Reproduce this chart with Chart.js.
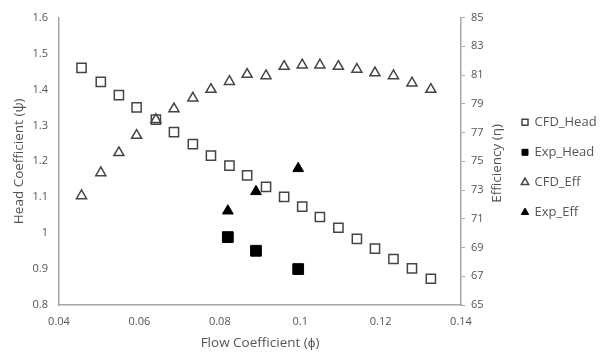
<!DOCTYPE html>
<html>
<head>
<meta charset="utf-8">
<script src="https://cdn.jsdelivr.net/npm/chart.js@4.4.1/dist/chart.umd.min.js"></script>
<style>
  html, body { margin: 0; padding: 0; background: #fff; }
  #wrap { width: 606px; height: 356px; }
</style>
</head>
<body>
<div id="wrap"><canvas id="pumpChart" width="606" height="356"></canvas></div>
<script>
// flow coefficient of the CFD points
const flowCfd = [0.0456, 0.0504, 0.0549, 0.0593, 0.0641, 0.0686, 0.0733, 0.0778, 0.0824, 0.0868,
                 0.0915, 0.0960, 0.1005, 0.1049, 0.1095, 0.1141, 0.1186, 0.1232, 0.1278, 0.1325];
const headCfd = [1.460, 1.421, 1.384, 1.350, 1.316, 1.281, 1.248, 1.216, 1.188, 1.161,
                 1.129, 1.101, 1.074, 1.045, 1.015, 0.984, 0.957, 0.928, 0.902, 0.873];
const effCfd = [72.6, 74.2, 75.6, 76.8, 77.9, 78.65, 79.4, 80.0, 80.55, 81.05,
                80.95, 81.6, 81.7, 81.7, 81.6, 81.4, 81.15, 80.95, 80.45, 80.0];

// experiment
const flowExp = [0.082, 0.089, 0.0995];
const headExp = [0.989, 0.951, 0.900];
const effExp = [71.55, 72.9, 74.5];

const seriesNames = ['CFD_Head', 'Exp_Head', 'CFD_Eff', 'Exp_Eff'];

const xTicks = [0.04, 0.06, 0.08, 0.1, 0.12, 0.14];
const xTickLabels = ['0.04', '0.06', '0.08', '0.1', '0.12', '0.14'];
const yTicks = [0.8, 0.9, 1, 1.1, 1.2, 1.3, 1.4, 1.5, 1.6];
const yTickLabels = ['0.8', '0.9', '1', '1.1', '1.2', '1.3', '1.4', '1.5', '1.6'];
const y2Ticks = [65, 67, 69, 71, 73, 75, 77, 79, 81, 83, 85];
const y2TickLabels = ['65', '67', '69', '71', '73', '75', '77', '79', '81', '83', '85'];

const xTitle = 'Flow Coefficient (\u03D5)';
const yTitle = 'Head Coefficient (\u03C8)';
const y2Title = 'Efficiency (\u03B7)';

const textColor = '#555555';
const axisColor = '#a6a6a6';
const FONT = "'Open Sans', 'Liberation Sans', sans-serif";

function pts(xs, ys) {
    return xs.map((x, i) => ({ x: x, y: ys[i] }));
}

function fixTicks(values) {
    return function (scale) {
        scale.ticks = values.map(v => ({ value: v }));
    };
}

// right axis title reads bottom-to-top, draw it ourselves
const rightTitle = {
    id: 'rightTitle',
    afterDraw(chart) {
        const ctx = chart.ctx;
        const a = chart.chartArea;
        ctx.save();
        ctx.font = '13.5px ' + FONT;
        ctx.fillStyle = textColor;
        ctx.textAlign = 'center';
        ctx.textBaseline = 'middle';
        ctx.translate(497, (a.top + a.bottom) / 2 + 2);
        ctx.rotate(-Math.PI / 2);
        ctx.fillText(y2Title, 0, 0);
        ctx.restore();
    }
};

const ctx = document.getElementById('pumpChart').getContext('2d');
const pumpChart = new Chart(ctx, {
    type: 'scatter',
    data: {
        datasets: [
            {
                label: seriesNames[0],
                data: pts(flowCfd, headCfd),
                yAxisID: 'y',
                pointStyle: 'rect',
                pointRadius: 6.5,
                borderWidth: 1.5,
                borderColor: '#444',
                backgroundColor: 'rgba(0,0,0,0)'
            },
            {
                label: seriesNames[1],
                data: pts(flowExp, headExp),
                yAxisID: 'y',
                pointStyle: 'rect',
                pointRadius: 7.6,
                borderWidth: 1,
                borderColor: '#000',
                backgroundColor: '#000'
            },
            {
                label: seriesNames[2],
                data: pts(flowCfd, effCfd),
                yAxisID: 'y2',
                pointStyle: 'triangle',
                pointRadius: 5.8,
                borderWidth: 1.5,
                borderColor: '#444',
                backgroundColor: 'rgba(0,0,0,0)'
            },
            {
                label: seriesNames[3],
                data: pts(flowExp, effExp),
                yAxisID: 'y2',
                pointStyle: 'triangle',
                pointRadius: 6.2,
                borderWidth: 1,
                borderColor: '#000',
                backgroundColor: '#000'
            }
        ]
    },
    options: {
        responsive: false,
        animation: false,
        devicePixelRatio: 1,
        layout: { padding: { top: 13, right: 0, left: 0, bottom: 0 } },
        plugins: {
            tooltip: { enabled: false },
            legend: {
                position: 'right',
                fullSize: false,
                align: 'center',
                title: { display: true, text: ' ', padding: 0, font: { size: 10 } },
                labels: {
                    usePointStyle: true,
                    boxWidth: 6,
                    boxHeight: 6,
                    padding: 17,
                    color: textColor,
                    font: { family: FONT, size: 13 }
                }
            }
        },
        scales: {
            x: {
                type: 'linear',
                min: 0.04,
                max: 0.14,
                afterBuildTicks: fixTicks(xTicks),
                afterFit(s) { s.height = 51; },
                grid: { display: false, drawTicks: false },
                border: { display: true, color: axisColor, width: 1.5 },
                ticks: {
                    padding: 10,
                    color: textColor,
                    font: { family: FONT, size: 11 },
                    callback: (v, i) => xTickLabels[i]
                },
                title: {
                    display: true,
                    text: xTitle,
                    color: textColor,
                    font: { family: FONT, size: 13.5 },
                    padding: { top: 0, bottom: 5 }
                }
            },
            y: {
                type: 'linear',
                position: 'left',
                min: 0.8,
                max: 1.6,
                afterBuildTicks: fixTicks(yTicks),
                afterFit(s) { s.width = 59; },
                grid: { display: false, drawTicks: false },
                border: { display: true, color: axisColor, width: 1.5 },
                ticks: {
                    padding: 11,
                    color: textColor,
                    font: { family: FONT, size: 11 },
                    callback: (v, i) => yTickLabels[i]
                },
                title: {
                    display: true,
                    text: yTitle,
                    color: textColor,
                    font: { family: FONT, size: 13.5 },
                    padding: { top: 11, bottom: 0 }
                }
            },
            y2: {
                type: 'linear',
                position: 'right',
                min: 65,
                max: 85,
                afterBuildTicks: fixTicks(y2Ticks),
                afterFit(s) { s.width = 44; },
                grid: {
                    display: true,
                    drawOnChartArea: false,
                    drawTicks: true,
                    tickLength: 4,
                    color: axisColor
                },
                border: { display: true, color: axisColor, width: 1.5 },
                ticks: {
                    padding: 6,
                    color: textColor,
                    font: { family: FONT, size: 11 },
                    callback: (v, i) => y2TickLabels[i]
                }
            }
        }
    },
    plugins: [rightTitle]
});
</script>
</body>
</html>
